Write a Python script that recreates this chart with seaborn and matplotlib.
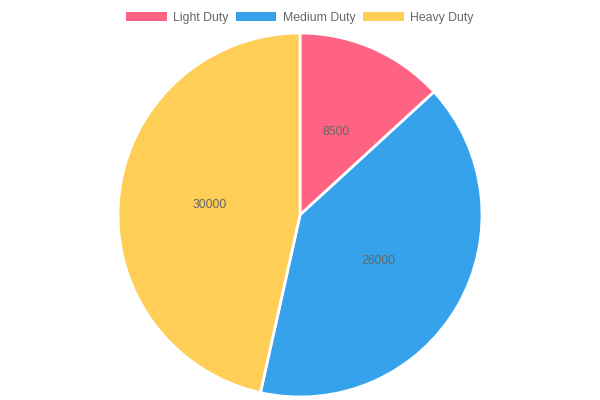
import matplotlib
matplotlib.use("Agg")
import matplotlib.pyplot as plt
from matplotlib.patches import Patch
import seaborn as sns

# data
categories = ['Light Duty', 'Medium Duty', 'Heavy Duty']
values = [8500, 26000, 30000]
colors = ['#FF6384', '#36A2EB', '#FFCE56']

sns.set_theme(style='white')
plt.rcParams['font.family'] = ['Liberation Sans', 'DejaVu Sans']

fig = plt.figure(figsize=(6, 4), dpi=100)
ax = fig.add_axes([118 / 600, 3 / 400, 364 / 600, 364 / 400])

total = sum(values)
wedges, texts, autotexts = ax.pie(
    values, colors=colors, startangle=90, counterclock=False, radius=1,
    autopct=lambda p: '%d' % round(p * total / 100.0), pctdistance=0.5,
    wedgeprops=dict(edgecolor='white', linewidth=2),
    textprops=dict(color='#666666', fontsize=8.8))
ax.set_xlim(-1.0, 1.0)
ax.set_ylim(-1.0, 1.0)
ax.set_aspect('equal')
ax.axis('off')

handles = [Patch(facecolor=c, edgecolor='none') for c in colors]
leg = fig.legend(handles, categories, loc='center', bbox_to_anchor=(0.5, 1 - 17.5 / 400),
                 ncol=3, frameon=False, fontsize=8.8, handlelength=3.3, handleheight=0.8,
                 handletextpad=0.55, columnspacing=0.6, borderaxespad=0)
for t in leg.get_texts():
    t.set_color('#666666')

fig.savefig('out.png', dpi=100)
